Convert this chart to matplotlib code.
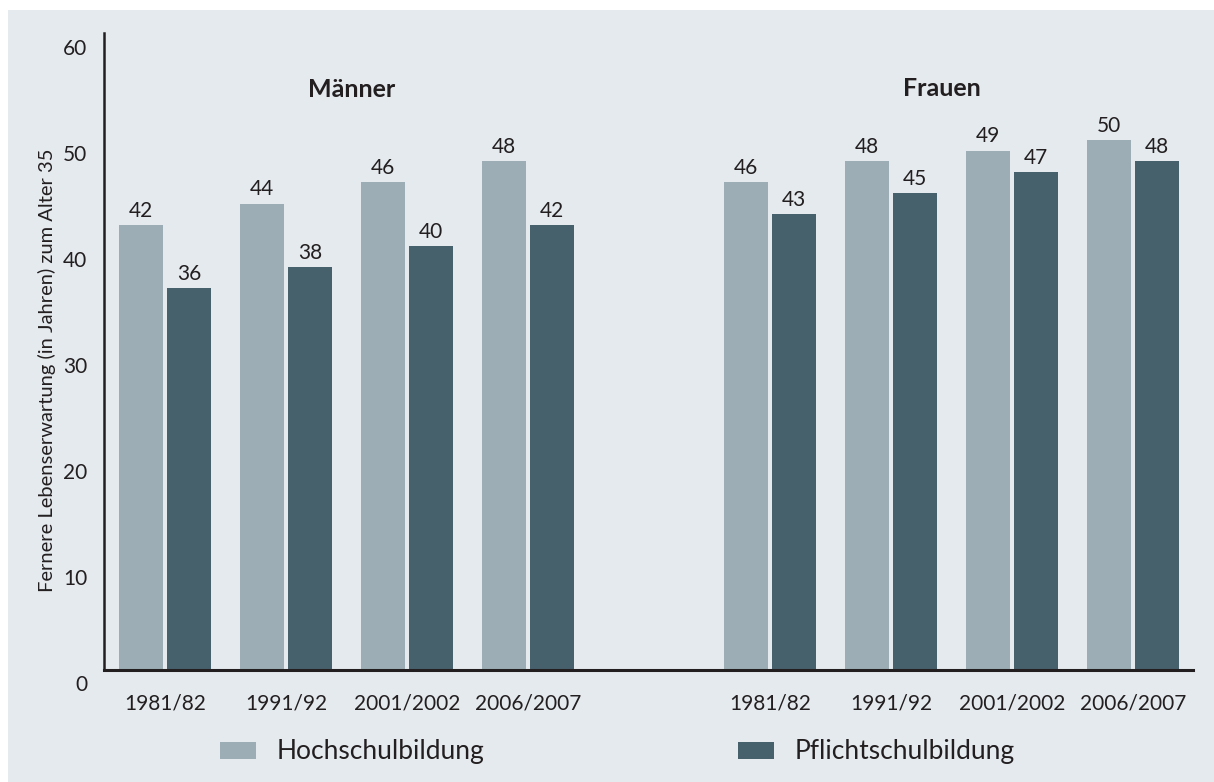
import matplotlib.pyplot as plt
import numpy as np
from matplotlib.transforms import ScaledTranslation

# data
perioden = ["1981/82", "1991/92", "2001/2002", "2006/2007"]
maenner_hoch = [42, 44, 46, 48]
maenner_pflicht = [36, 38, 40, 42]
frauen_hoch = [46, 48, 49, 50]
frauen_pflicht = [43, 45, 47, 48]
serien = ["Hochschulbildung", "Pflichtschulbildung"]
gruppen = ["Männer", "Frauen"]
ylabel = "Fernere Lebenserwartung (in Jahren) zum Alter 35"

hell = "#9dadb5"
dunkel = "#46606c"
bg = "#e5eaee"
ink = "#231f20"

plt.rcParams["font.family"] = ["Lato", "DejaVu Sans"]

fig = plt.figure(figsize=(12.14, 7.82), dpi=100)
fig.patch.set_facecolor("white")
# light panel behind the chart
fig.add_artist(plt.Rectangle((8 / 1214, 0), 1, 1 - 10 / 782, transform=fig.transFigure,
                             facecolor=bg, edgecolor="none", zorder=-10))

ax = fig.add_axes([104 / 1214, 1 - 670 / 782, (1193 - 104) / 1214, (670 - 33) / 782])
ax.set_facecolor(bg)

# Männer at 0..3, Frauen at 5..8
pos = np.r_[np.arange(4), np.arange(4) + 5]
hoch = maenner_hoch + frauen_hoch
pflicht = maenner_pflicht + frauen_pflicht
w = 0.364
off = 0.198

b1 = ax.bar(pos - off, hoch, w, color=hell, label=serien[0])
b2 = ax.bar(pos + off, pflicht, w, color=dunkel, label=serien[1])
ax.bar_label(b1, padding=3, fontsize=15, color=ink)
ax.bar_label(b2, padding=3, fontsize=15, color=ink)

ax.set_xlim(-0.504, 8.496)
ax.set_ylim(0, 60.1)

ax.set_xticks(pos)
ax.set_xticklabels(perioden * 2)
ax.set_yticks(range(0, 61, 10))
ax.tick_params(axis="both", length=0, labelsize=15, colors=ink)
ax.tick_params(axis="x", pad=17)
ax.tick_params(axis="y", pad=12)

# y labels sit a bit below their value in the original
offset = ScaledTranslation(0, -13 / 100, fig.dpi_scale_trans)
for lab in ax.yaxis.get_majorticklabels():
    lab.set_transform(lab.get_transform() + offset)

for s in ["top", "right"]:
    ax.spines[s].set_visible(False)
ax.spines["left"].set_linewidth(1.8)
ax.spines["bottom"].set_linewidth(2.2)
ax.spines["left"].set_color(ink)
ax.spines["bottom"].set_color(ink)

ax.set_ylabel(ylabel, fontsize=14.5, color=ink)
ax.yaxis.set_label_coords(-0.044, 0.471)

ax.text(1.54, 54.8, gruppen[0], ha="center", va="center", fontsize=18, fontweight="bold", color=ink)
ax.text(6.42, 54.9, gruppen[1], ha="center", va="center", fontsize=18, fontweight="bold", color=ink)

# legend, two entries placed apart
for h, x in [(b1, 220), (b2, 738)]:
    fig.legend([h], [h.get_label()], loc="center left",
               bbox_to_anchor=(x / 1214, 1 - 752 / 782), frameon=False,
               fontsize=19, handlelength=1.36, handleheight=0.64,
               handletextpad=0.8, borderpad=0, borderaxespad=0,
               labelcolor=ink)

fig.savefig("out.png", dpi=100, facecolor=fig.get_facecolor())
